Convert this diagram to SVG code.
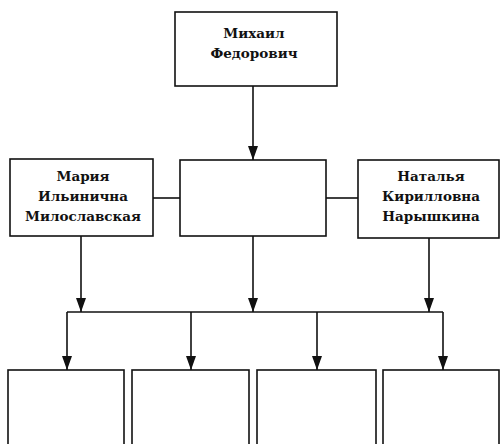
<svg xmlns="http://www.w3.org/2000/svg" width="501" height="444" viewBox="0 0 501 444">
<defs>
<style>
.box{fill:#fff;stroke:#111;stroke-width:1.6}
.ln{fill:none;stroke:#111;stroke-width:1.6}
.t{font-family:"DejaVu Serif","Liberation Serif",serif;font-weight:bold;font-size:13.5px;fill:#111;text-anchor:middle}
</style>
<marker id="ah" viewBox="0 0 14 10" refX="14" refY="5" markerWidth="14" markerHeight="10" markerUnits="userSpaceOnUse" orient="auto">
<path d="M0,0 L14,5 L0,10 Z" fill="#111"/>
</marker>
</defs>
<rect width="501" height="444" fill="#fff"/>
<g id="connectors">
<path class="ln" d="M253,86 V160" marker-end="url(#ah)"/>
<line class="ln" x1="153" y1="198" x2="180" y2="198"/>
<line class="ln" x1="326" y1="198" x2="358" y2="198"/>
<path class="ln" d="M81,236 V312" marker-end="url(#ah)"/>
<path class="ln" d="M253,236 V312" marker-end="url(#ah)"/>
<path class="ln" d="M429,238 V312" marker-end="url(#ah)"/>
<path class="ln" d="M67,312 H443"/>
<path class="ln" d="M67,312 V370" marker-end="url(#ah)"/>
<path class="ln" d="M191,312 V370" marker-end="url(#ah)"/>
<path class="ln" d="M317,312 V370" marker-end="url(#ah)"/>
<path class="ln" d="M443,312 V370" marker-end="url(#ah)"/>
</g>
<g id="mikhail">
<rect class="box" x="175" y="12" width="162" height="74"/>
<text class="t" x="254" y="38">Михаил</text>
<text class="t" x="254" y="58">Федорович</text>
</g>
<g id="center">
<rect class="box" x="180" y="160" width="146" height="76"/>
</g>
<g id="maria">
<rect class="box" x="10" y="159" width="143" height="77"/>
<text class="t" x="83" y="181">Мария</text>
<text class="t" x="83" y="201">Ильинична</text>
<text class="t" x="83" y="221">Милославская</text>
</g>
<g id="natalia">
<rect class="box" x="358" y="160" width="141" height="78"/>
<text class="t" x="431" y="181">Наталья</text>
<text class="t" x="431" y="201">Кирилловна</text>
<text class="t" x="431" y="221">Нарышкина</text>
</g>
<g id="child1"><rect class="box" x="8" y="370" width="116" height="80"/></g>
<g id="child2"><rect class="box" x="132" y="370" width="117" height="80"/></g>
<g id="child3"><rect class="box" x="257" y="370" width="119" height="80"/></g>
<g id="child4"><rect class="box" x="383" y="370" width="116" height="80"/></g>
</svg>
